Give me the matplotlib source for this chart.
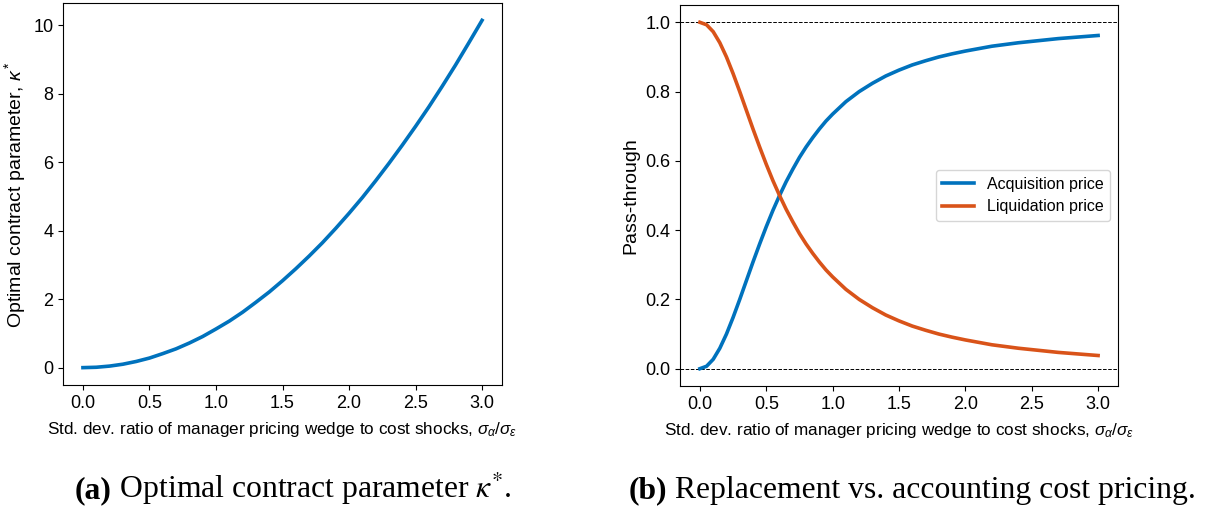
import matplotlib
matplotlib.use("Agg")
import matplotlib.pyplot as plt

plt.rcParams["font.family"] = ["Liberation Sans", "DejaVu Sans"]
plt.rcParams["mathtext.fontset"] = "custom"
plt.rcParams["mathtext.rm"] = "Liberation Sans"
plt.rcParams["mathtext.it"] = "Liberation Sans:italic"
plt.rcParams["font.size"] = 12
plt.rcParams["xtick.labelsize"] = 13
plt.rcParams["ytick.labelsize"] = 13
plt.rcParams["legend.fontsize"] = 11.5

BLUE = "#0072BD"
ORANGE = "#D95319"

# panel (a): optimal contract parameter
ratio_a = [0.0, 0.1, 0.2, 0.3, 0.4, 0.5, 0.6, 0.7, 0.8, 0.9, 1.0,
           1.1, 1.2, 1.3, 1.4, 1.5, 1.6, 1.7, 1.8, 1.9, 2.0,
           2.1, 2.2, 2.3, 2.4, 2.5, 2.6, 2.7, 2.8, 2.9, 3.0]
kappa = [0.0, 0.011, 0.045, 0.10, 0.18, 0.28, 0.41, 0.55, 0.72, 0.91, 1.13,
         1.36, 1.62, 1.91, 2.21, 2.54, 2.89, 3.26, 3.65, 4.07, 4.51,
         4.97, 5.46, 5.97, 6.50, 7.05, 7.62, 8.22, 8.84, 9.49, 10.15]

# panel (b): pass-through of acquisition / liquidation price
ratio_b = [0.0, 0.05, 0.1, 0.15, 0.2, 0.25, 0.3, 0.35, 0.4, 0.45, 0.5,
           0.55, 0.6, 0.65, 0.7, 0.75, 0.8, 0.85, 0.9, 0.95, 1.0,
           1.1, 1.2, 1.3, 1.4, 1.5, 1.6, 1.7, 1.8, 1.9, 2.0,
           2.1, 2.2, 2.3, 2.4, 2.5, 2.6, 2.7, 2.8, 2.9, 3.0]
liquidation = [1.000, 0.993, 0.973, 0.941, 0.900, 0.852, 0.800, 0.746, 0.692, 0.640, 0.590,
               0.543, 0.500, 0.460, 0.424, 0.390, 0.360, 0.333, 0.308, 0.285, 0.265,
               0.229, 0.200, 0.176, 0.155, 0.138, 0.123, 0.111, 0.100, 0.091, 0.083,
               0.076, 0.069, 0.064, 0.059, 0.055, 0.051, 0.047, 0.044, 0.041, 0.038]
acquisition = [0.000, 0.007, 0.027, 0.059, 0.100, 0.148, 0.200, 0.254, 0.308, 0.360, 0.410,
               0.457, 0.500, 0.540, 0.576, 0.610, 0.640, 0.667, 0.692, 0.715, 0.735,
               0.771, 0.800, 0.824, 0.845, 0.862, 0.877, 0.889, 0.900, 0.909, 0.917,
               0.924, 0.931, 0.936, 0.941, 0.945, 0.949, 0.953, 0.956, 0.959, 0.962]

XLABEL = r"Std. dev. ratio of manager pricing wedge to cost shocks, $\sigma_\alpha/\sigma_\varepsilon$"
W, H = 1223, 508

fig = plt.figure(figsize=(W / 100, H / 100), dpi=100)
ax1 = fig.add_axes([63 / W, 1 - 385 / H, 439 / W, 382 / H])
ax2 = fig.add_axes([680 / W, 1 - 386 / H, 438 / W, 381 / H])

ax1.plot(ratio_a, kappa, color=BLUE, lw=2.6)
ax1.set_xlabel(XLABEL, fontsize=12.3, labelpad=6)
ax1.set_ylabel(r"Optimal contract parameter, $\kappa^*$", fontsize=14)
ax1.set_xticks([0.0, 0.5, 1.0, 1.5, 2.0, 2.5, 3.0])

ax2.plot(ratio_b, acquisition, color=BLUE, lw=2.6, label="Acquisition price")
ax2.plot(ratio_b, liquidation, color=ORANGE, lw=2.6, label="Liquidation price")
ax2.axhline(0.0, color="black", ls="--", lw=0.7, zorder=0)
ax2.axhline(1.0, color="black", ls="--", lw=0.7, zorder=0)
ax2.set_xlabel(XLABEL, fontsize=12.3, labelpad=6)
ax2.set_ylabel("Pass-through", fontsize=14)
ax2.set_xticks([0.0, 0.5, 1.0, 1.5, 2.0, 2.5, 3.0])
ax2.legend(loc="center right")

# captions below each panel: bold tag + serif text
fig.canvas.draw()
rend = fig.canvas.get_renderer()
for xc, tag, txt in [(293 / W, "(a)", r" Optimal contract parameter $\kappa^{*}$."),
                     (912 / W, "(b)", " Replacement vs. accounting cost pricing.")]:
    kw = dict(fontsize=22.8, family="Liberation Serif", va="baseline", math_fontfamily="stix")
    t1 = fig.text(0, 10 / H, tag, fontweight="bold", **kw)
    t2 = fig.text(0, 10 / H, txt, **kw)
    w1 = t1.get_window_extent(rend).width / W
    w2 = t2.get_window_extent(rend).width / W
    x0 = xc - (w1 + w2) / 2
    t1.set_x(x0)
    t2.set_x(x0 + w1)

fig.savefig("out.png", dpi=100)
